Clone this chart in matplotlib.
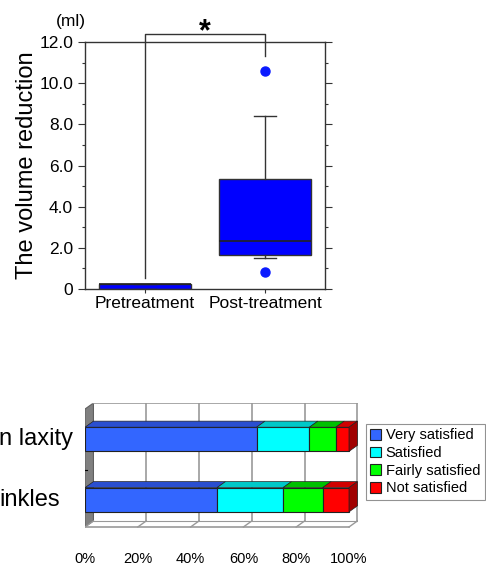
import matplotlib.pyplot as plt
from matplotlib.patches import Polygon

plt.rcParams['font.family'] = ['Liberation Sans', 'DejaVu Sans']

# box plot data (ml)
groups = ['Pretreatment', 'Post-treatment']
q1 = [0.0, 1.65]
med = [0.25, 2.35]
q3 = [0.25, 5.35]
whislo = [0.0, 1.5]
whishi = [0.25, 8.4]
fliers = [[], [10.6, 0.85]]

# satisfaction data (%), labels as they show in the cropped picture
items = ['inkles', 'n laxity']
levels = ['Very satisfied', 'Satisfied', 'Fairly satisfied', 'Not satisfied']
very_satisfied = [50, 65]
satisfied = [25, 20]
fairly_satisfied = [15, 10]
not_satisfied = [10, 5]

fig = plt.figure(figsize=(4.86, 5.70), dpi=100)

# ---- top: box plot
ax = fig.add_axes([85 / 486, 1 - 289 / 570, 240 / 486, 247 / 570])
stats = []
for i, g in enumerate(groups):
    stats.append(dict(label=g, q1=q1[i], med=med[i], q3=q3[i],
                      whislo=whislo[i], whishi=whishi[i], fliers=fliers[i]))
ax.bxp(stats, positions=[1, 2], widths=0.76, patch_artist=True,
       showcaps=True, capwidths=0.19,
       boxprops=dict(facecolor='#0000ff', edgecolor='#333333', linewidth=1),
       medianprops=dict(color='#222222', linewidth=1.2),
       whiskerprops=dict(color='#333333', linewidth=1),
       capprops=dict(color='#333333', linewidth=1),
       flierprops=dict(marker='o', markerfacecolor='#0a1aff', markeredgecolor='#0a1aff',
                       markersize=6.5))
ax.set_xlim(0.5, 2.5)
ax.set_ylim(0, 12)
ax.set_yticks([0, 2, 4, 6, 8, 10, 12])
ax.set_yticklabels(['0', '2.0', '4.0', '6.0', '8.0', '10.0', '12.0'])
ax.set_yticks([1, 3, 5, 7, 9, 11], minor=True)
ax.tick_params(axis='y', which='both', left=True, right=True, direction='out',
               labelsize=12.5, width=0.8, color='#333333')
ax.tick_params(axis='y', which='major', length=5)
ax.tick_params(axis='y', which='minor', length=2.5)
ax.tick_params(axis='x', labelsize=12.5, length=3, width=0.8, color='#333333', pad=2)
for s in ax.spines.values():
    s.set_color('#333333')
    s.set_linewidth(1)
ax.set_ylabel('The volume reduction', fontsize=17, labelpad=1)
ax.text(-0.06, 1.085, '(ml)', transform=ax.transAxes, fontsize=12.5, ha='center', va='center')

# significance bracket
ax.plot([1, 1, 2, 2], [0.55, 12.4, 12.4, 11.3], color='#333333', linewidth=1, clip_on=False)
ax.text(1.5, 12.45, '*', fontsize=22, fontweight='bold', ha='center', va='center')

# ---- bottom: 3D-look stacked bars
bx = fig.add_axes([85 / 486, 1 - 530 / 570, 273 / 486, 127 / 570])
dx, dy = 3.2, 0.1
floor = -0.45
top = 1.6 - dy
h = 0.4
bx.set_xlim(0, 103.4)
bx.set_ylim(-0.5, 1.6)
for s in bx.spines.values():
    s.set_visible(False)

# walls and grid
bx.add_patch(Polygon([(0, floor), (dx, floor + dy), (dx, top + dy), (0, top)],
                     closed=True, facecolor='#808080', edgecolor='#606060', linewidth=0.8))
grid_c = '#999999'
for v in [20, 40, 60, 80, 100]:
    bx.plot([v + dx, v + dx], [floor + dy, top + dy], color=grid_c, linewidth=1.2)
for v in [0, 20, 40, 60, 80, 100]:
    bx.plot([v, v + dx], [floor, floor + dy], color=grid_c, linewidth=1)
bx.plot([dx, 100 + dx], [top + dy, top + dy], color=grid_c, linewidth=1.2)
bx.plot([dx, 100 + dx], [floor + dy, floor + dy], color=grid_c, linewidth=0.8)
bx.plot([0, 100], [floor, floor], color=grid_c, linewidth=1.2)
bx.plot([0, 0.8], [0.5, 0.5], color='black', linewidth=0.8)

front = ['#3366ff', '#00ffff', '#00ff00', '#ff0000']
top_c = ['#2a4fd0', '#00c8c8', '#00c000', '#d00000']
side_c = ['#1f3fa8', '#009999', '#009000', '#a00000']
series = [very_satisfied, satisfied, fairly_satisfied, not_satisfied]

for j, y in enumerate([0, 1]):
    left = 0
    for k, vals in enumerate(series):
        w = vals[j]
        bx.barh(y, w, left=left, height=h, color=front[k], edgecolor='#222222',
                linewidth=0.8, zorder=3, label=levels[k] if j == 0 else None)
        bx.add_patch(Polygon([(left, y + h / 2), (left + dx, y + h / 2 + dy),
                              (left + w + dx, y + h / 2 + dy), (left + w, y + h / 2)],
                             closed=True, facecolor=top_c[k], edgecolor='#222222',
                             linewidth=0.5, zorder=3))
        left += w
    bx.add_patch(Polygon([(left, y - h / 2), (left + dx, y - h / 2 + dy),
                          (left + dx, y + h / 2 + dy), (left, y + h / 2)],
                         closed=True, facecolor=side_c[-1], edgecolor='#222222',
                         linewidth=0.5, zorder=3))

bx.set_xticks([0, 20, 40, 60, 80, 100])
bx.set_xticklabels([f'{v}%' for v in [0, 20, 40, 60, 80, 100]])
bx.tick_params(axis='x', length=0, labelsize=10.5, pad=16)
bx.set_yticks([])
bx.text(-0.044, 1, items[1], transform=bx.get_yaxis_transform(), fontsize=17,
        ha='right', va='center', clip_on=False)
bx.text(-0.09, 0, items[0], transform=bx.get_yaxis_transform(), fontsize=17,
        ha='right', va='center', clip_on=False)

handles, labels = bx.get_legend_handles_labels()
leg = fig.legend(handles, labels, loc='upper left', bbox_to_anchor=(366 / 486, 1 - 424 / 570),
                 fontsize=10.5, frameon=True, fancybox=False, handlelength=0.75,
                 handleheight=0.75, handletextpad=0.3, borderpad=0.3, labelspacing=0.25,
                 borderaxespad=0)
leg.get_frame().set_edgecolor('#777777')
leg.get_frame().set_linewidth(0.8)

fig.savefig('out.png', dpi=100)
